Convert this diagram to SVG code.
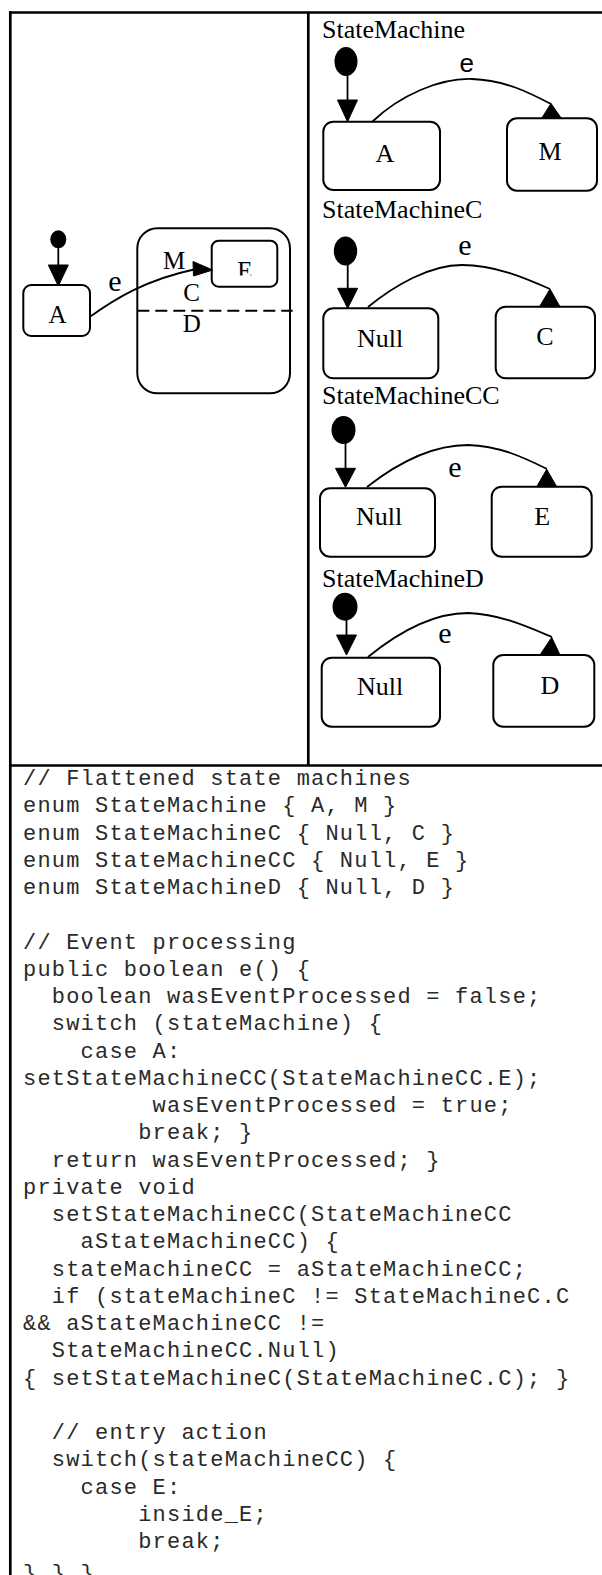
<svg xmlns="http://www.w3.org/2000/svg" width="602" height="1575" viewBox="0 0 602 1575">
  <style>
    .frame { fill: none; stroke: #000; stroke-width: 2.7; }
    .box { fill: #fff; stroke: #000; stroke-width: 2; }
    .edge { fill: none; stroke: #000; stroke-width: 1.8; }
    .head { fill: #000; stroke: #000; stroke-width: 1; stroke-linejoin: miter; }
    .dot { fill: #000; }
    .dash { fill: none; stroke: #000; stroke-width: 2; stroke-dasharray: 12 6; }
    .title { font-family: "Liberation Serif", "Times New Roman", serif; font-size: 26px; fill: #000; }
    .lbl { font-family: "Liberation Serif", "Times New Roman", serif; font-size: 26px; fill: #000; text-anchor: middle; }
    .lbl-s { font-family: "Liberation Serif", "Times New Roman", serif; font-size: 25px; fill: #000; text-anchor: middle; }
    .ev { font-family: "Liberation Serif", "Times New Roman", serif; font-size: 30px; fill: #000; text-anchor: middle; }
    .ev-sans { font-family: "Liberation Sans", Arial, sans-serif; font-size: 26px; fill: #000; text-anchor: middle; }
    .code { font-family: "Liberation Mono", "Courier New", monospace; font-size: 22px; letter-spacing: 1.2px; fill: #2a2a2a; white-space: pre; }
  </style>
  <defs>
    <clipPath id="clipE">
      <rect x="200" y="240" width="90" height="35.5"/>
    </clipPath>
  </defs>

  <rect width="602" height="1575" fill="#fff"/>

  <!-- table frame -->
  <g id="frame">
    <line class="frame" x1="9" y1="12.5" x2="602" y2="12.5"/>
    <line class="frame" x1="10.3" y1="11.2" x2="10.3" y2="1575"/>
    <line class="frame" x1="308.3" y1="12.5" x2="308.3" y2="765.5"/>
    <line class="frame" x1="10" y1="765.5" x2="602" y2="765.5"/>
  </g>

  <!-- hierarchical machine (left cell) -->
  <g id="left-diagram">
    <g id="L-init">
      <ellipse class="dot" cx="58.3" cy="239.3" rx="8" ry="9"/>
    </g>
    <g id="L-A">
      <rect class="box" x="23.3" y="285" width="66.7" height="51" rx="8"/>
      <text class="lbl-s" x="57.5" y="322.7">A</text>
    </g>
    <g id="L-M">
      <rect class="box" x="137.3" y="228.3" width="152.7" height="165" rx="20"/>
      <line class="dash" x1="137.3" y1="310.7" x2="292.7" y2="310.7"/>
      <text class="lbl-s" x="174" y="269.3">M</text>
      <text class="lbl-s" x="191.7" y="300.7">C</text>
      <text class="lbl-s" x="191.7" y="331.7">D</text>
    </g>
    <g id="L-E">
      <rect class="box" x="211.7" y="240.7" width="65.6" height="46" rx="7"/>
      <text class="lbl-s" x="245" y="278.6" clip-path="url(#clipE)">E</text>
    </g>
    <g id="L-connectors">
      <line class="edge" x1="58.3" y1="248" x2="58.3" y2="266"/>
      <polygon class="head" points="48.3,265 68.3,265 58.3,286"/>
      <path class="edge" d="M90,316.7 C115,299 145,280 194,269.5"/>
      <polygon class="head" points="193,261.5 193.5,276 212.7,270"/>
      <text class="ev" x="115" y="291">e</text>
    </g>
  </g>

  <!-- flattened machines (right cell) -->
  <g id="sm-StateMachine">
    <text class="title" x="322" y="38.3">StateMachine</text>
    <g id="sm1-init"><ellipse class="dot" cx="346" cy="61.5" rx="11.5" ry="14.5"/></g>
    <g id="sm1-A">
      <rect class="box" x="323.3" y="121.7" width="116.7" height="68.3" rx="10"/>
      <text class="lbl" x="385" y="162">A</text>
    </g>
    <g id="sm1-M">
      <rect class="box" x="507" y="118.3" width="90" height="72.4" rx="10"/>
      <text class="lbl" x="550" y="160.3">M</text>
    </g>
    <g id="sm1-connectors">
      <line class="edge" x1="347.5" y1="75" x2="347.5" y2="101"/>
      <polygon class="head" points="337.5,100 357.5,100 347.5,121.7"/>
      <path class="edge" d="M372,122 C400,95 440,78 472,79 C505,80 530,93 551,104"/>
      <polygon class="head" points="551,103.5 541.5,118.5 561.5,118.5"/>
      <text class="ev-sans" x="466.7" y="72">e</text>
    </g>
  </g>

  <g id="sm-StateMachineC">
    <text class="title" x="322" y="218.3">StateMachineC</text>
    <g id="sm2-init"><ellipse class="dot" cx="345.5" cy="251" rx="11.7" ry="14.5"/></g>
    <g id="sm2-Null">
      <rect class="box" x="323.3" y="308.3" width="115" height="70" rx="10"/>
      <text class="lbl" x="380" y="347">Null</text>
    </g>
    <g id="sm2-C">
      <rect class="box" x="495.7" y="306.7" width="99.3" height="71.6" rx="10"/>
      <text class="lbl" x="545" y="345.3">C</text>
    </g>
    <g id="sm2-connectors">
      <line class="edge" x1="347.7" y1="264" x2="347.7" y2="289"/>
      <polygon class="head" points="337.7,288.3 357.7,288.3 347.7,308.3"/>
      <path class="edge" d="M368,307 C395,285 430,265 462,265 C495,265 525,278 550,289"/>
      <polygon class="head" points="550,289 539.5,306.7 560,306.7"/>
      <text class="ev" x="465" y="255">e</text>
    </g>
  </g>

  <g id="sm-StateMachineCC">
    <text class="title" x="322" y="404">StateMachineCC</text>
    <g id="sm3-init"><ellipse class="dot" cx="343.5" cy="430" rx="12" ry="14"/></g>
    <g id="sm3-Null">
      <rect class="box" x="320" y="488.3" width="115" height="68.4" rx="10"/>
      <text class="lbl" x="379" y="525.3">Null</text>
    </g>
    <g id="sm3-E">
      <rect class="box" x="491.7" y="486.7" width="100" height="70" rx="10"/>
      <text class="lbl" x="542.3" y="525.3">E</text>
    </g>
    <g id="sm3-connectors">
      <line class="edge" x1="345.5" y1="443" x2="345.5" y2="469"/>
      <polygon class="head" points="335.5,468.3 355.5,468.3 345.5,487.3"/>
      <path class="edge" d="M367,487 C395,465 430,445 468,445 C500,446 525,458 547,469"/>
      <polygon class="head" points="546.7,469.3 536.7,486.7 556.7,486.7"/>
      <text class="ev" x="455" y="477">e</text>
    </g>
  </g>

  <g id="sm-StateMachineD">
    <text class="title" x="322" y="587.3">StateMachineD</text>
    <g id="sm4-init"><ellipse class="dot" cx="345" cy="606.7" rx="12.5" ry="14"/></g>
    <g id="sm4-Null">
      <rect class="box" x="321.7" y="657.7" width="118.3" height="69" rx="10"/>
      <text class="lbl" x="380" y="695.3">Null</text>
    </g>
    <g id="sm4-D">
      <rect class="box" x="493.3" y="655" width="101" height="71.7" rx="10"/>
      <text class="lbl" x="550" y="693.6">D</text>
    </g>
    <g id="sm4-connectors">
      <line class="edge" x1="346.5" y1="619" x2="346.5" y2="636"/>
      <polygon class="head" points="336.5,635 356.5,635 346.5,655"/>
      <path class="edge" d="M368,657 C395,635 430,613 468,613 C500,614 528,627 552,637"/>
      <polygon class="head" points="551.7,637.3 540,655 560,655"/>
      <text class="ev" x="445" y="643">e</text>
    </g>
  </g>

  <!-- generated Java (bottom cell) -->
  <g id="code">
    <text class="code" xml:space="preserve">
      <tspan x="23" y="785">// Flattened state machines</tspan>
      <tspan x="23" y="812.25">enum StateMachine { A, M }</tspan>
      <tspan x="23" y="839.5">enum StateMachineC { Null, C }</tspan>
      <tspan x="23" y="866.75">enum StateMachineCC { Null, E }</tspan>
      <tspan x="23" y="894">enum StateMachineD { Null, D }</tspan>
      <tspan x="23" y="948.5">// Event processing</tspan>
      <tspan x="23" y="975.75">public boolean e() {</tspan>
      <tspan x="23" y="1003">  boolean wasEventProcessed = false;</tspan>
      <tspan x="23" y="1030.25">  switch (stateMachine) {</tspan>
      <tspan x="23" y="1057.5">    case A:</tspan>
      <tspan x="23" y="1084.75">setStateMachineCC(StateMachineCC.E);</tspan>
      <tspan x="23" y="1112">         wasEventProcessed = true;</tspan>
      <tspan x="23" y="1139.25">        break; }</tspan>
      <tspan x="23" y="1166.5">  return wasEventProcessed; }</tspan>
      <tspan x="23" y="1193.75">private void</tspan>
      <tspan x="23" y="1221">  setStateMachineCC(StateMachineCC</tspan>
      <tspan x="23" y="1248.25">    aStateMachineCC) {</tspan>
      <tspan x="23" y="1275.5">  stateMachineCC = aStateMachineCC;</tspan>
      <tspan x="23" y="1302.75">  if (stateMachineC != StateMachineC.C</tspan>
      <tspan x="23" y="1330">&amp;&amp; aStateMachineCC !=</tspan>
      <tspan x="23" y="1357.25">  StateMachineCC.Null)</tspan>
      <tspan x="23" y="1384.5">{ setStateMachineC(StateMachineC.C); }</tspan>
      <tspan x="23" y="1439">  // entry action</tspan>
      <tspan x="23" y="1466.25">  switch(stateMachineCC) {</tspan>
      <tspan x="23" y="1493.5">    case E:</tspan>
      <tspan x="23" y="1520.75">        inside_E;</tspan>
      <tspan x="23" y="1548">        break;</tspan>
      <tspan x="23" y="1580">} } }</tspan>
    </text>
  </g>
</svg>
